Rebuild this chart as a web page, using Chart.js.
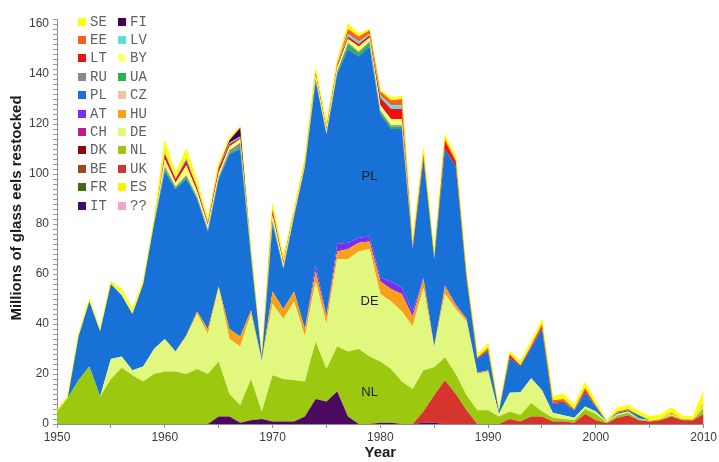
<!DOCTYPE html>
<html>
<head>
<meta charset="utf-8">
<title>Glass eels restocked</title>
<script src="https://cdn.jsdelivr.net/npm/chart.js@4.4.1/dist/chart.umd.min.js"></script>
<style>
  html, body { margin: 0; padding: 0; background: #fff; }
  #wrap { position: relative; width: 719px; height: 462px; }
  #legend { position: absolute; left: 0; top: 0; font-family: "Liberation Mono", "Courier New", monospace; font-size: 14px; color: #606060; }
  .item { position: absolute; height: 18px; line-height: 18px; display: flex; align-items: center; white-space: nowrap; }
  .sw { width: 8px; height: 8px; margin-right: 4px; display: inline-block; }
</style>
</head>
<body>
<div id="wrap">
  <canvas id="chart" width="719" height="462"></canvas>
  <div id="legend"></div>
</div>
<script>
// years on the x axis
var years = [1950,1951,1952,1953,1954,1955,1956,1957,1958,1959,
             1960,1961,1962,1963,1964,1965,1966,1967,1968,1969,
             1970,1971,1972,1973,1974,1975,1976,1977,1978,1979,
             1980,1981,1982,1983,1984,1985,1986,1987,1988,1989,
             1990,1991,1992,1993,1994,1995,1996,1997,1998,1999,
             2000,2001,2002,2003,2004,2005,2006,2007,2008,2009,
             2010];
var xTickLabels = [1950, 1960, 1970, 1980, 1990, 2000, 2010];
var yTickLabels = [0, 20, 40, 60, 80, 100, 120, 140, 160];

// millions of glass eels restocked, per country
var IT = [0,0,0,0,0,0,0,0,0,0,
          0,0,0,0,0,3,3,0.5,1.5,2,
          1,1,1,3,10,9,13,3,0,0,
          0.5,0.5,0,0,0.5,0.5,0,0,0,0,
          0,0,0,0,0,0,0,0,0,0,
          0,0,0,0,0,0,0,0,0,0,
          0];
var UK = [0,0,0,0,0,0,0,0,0,0,
          0,0,0,0,0,0,0,0,0,0,
          0,0,0,0,0,0,0,0,0,0,
          0,0,0,0,4.5,11,17.5,12,5.5,0,
          0,0,2,1,3,3,1,1,0.5,4,
          1.5,0.3,2.5,3.5,1.5,1,1.5,3,1.5,1.5,
          4];
var NL = [5,10.5,17.5,23,11,18,22.5,19.5,17,20,
          21,21,20,22,20,22,9,7,16.5,3,
          18.5,17,16.5,14,23,13,18,26,30,27,
          24.5,21.5,17,14,16.5,11.2,9.2,8,6,5.5,
          5.5,3,3,2.6,5.4,2,1.5,1,1,2,
          2.5,0.4,1,1,0.5,0.3,0.5,0.5,0.5,0.3,
          2.5];
var DE = [0,0,0,0,0,8,4.5,2,6,10,
          13,8,15,22,16,29.5,22,23.5,26,20,
          28.5,24,31.5,18,24,18,35,37,39,43,
          27,27,28,25,33,7.8,25.3,26,29.5,14.5,
          15.5,1,7.5,9.1,9.9,8.5,2,1.5,1,1,
          1,0.3,0.5,0.5,0.2,0.2,0.2,0.5,0.2,0.2,
          1];
var HU = [0,0,0,0,0,0,0,0,0,0,
          0,0,0.5,1,2,0.5,4,4,1.5,0.5,
          5,4,4,3,4,3,3,4,3.5,3,
          5,5,7,4,3.5,0.5,3,1.5,1,0.5,
          0.5,0,0,0,0,0,0,0,0,0,
          0,0,0,0,0,0,0,0,0,0,
          0];
var AT = [0,0,0,0,0,0,0,0,0,0,
          0,0,0,0,0,0,0,0,0,0,
          0,0,0,0,2.5,0.5,3,2.5,2,2,
          1.5,3,2.5,2,0.5,0,0.5,0.5,0,0,
          0,0,0,0,0,0,0,0,0,0,
          0,0,0,0,0,0,0,0,0,0,
          0];
var PL = [0,0,17.5,26,26,30,24.5,22.5,33,50,
          67,65,62.5,45,39,43,70,75,21.5,1,
          27,16,30,65,73.5,72.5,68,77.5,72.5,76,
          65.5,61,63.5,25,47.5,35,54.5,55,16,5.5,
          7.5,1,14,10.3,12.2,24.5,3.5,5,3,5.5,
          2,0,0.5,0.5,1.3,0,0,0,0,0,
          0];
var UA = [0,0,0,0,0,0,0,0,0,0,
          1,0.5,1,0.5,0.5,0.5,0.5,1,0.5,0,
          1,0.5,0.5,0,1,0,1,2,1.5,1.5,
          1,1,1,0,0,0,0,0,0,0,
          0,0,0,0,0,0,0,0,0,0,
          0,0,0,0,0,0,0,0,0,0,
          0];
var RU = [0,0,0,0,0,0,0,0,0,0,
          1,0.5,0.5,0.5,0.5,0.5,1,1.5,0,0,
          0.5,0,0,0,0,0,0,0.5,0.5,0.5,
          0.5,0.5,0.5,0,0,0,0,0,0,0,
          0,0,0,0,0,0,0,0,0,0,
          0,0,0,0,0,0,0,0,0,0,
          0];
var BY = [0,0,0,0,0,0,1,0.5,0,0,
          3,1.5,4,2,1.5,1.5,1.5,1.5,1,0.5,
          2,1.5,1,1,1.5,1.5,1.5,1.5,2,1.5,
          2,2.5,2.5,0,0,0,0,0,0,0,
          0,0,0,0,0,0,0,0,0,0,
          0,0,0,0,0,0,0,0,0,0,
          0];
var LT = [0,0,0,0,0,0,0,0,0,0,
          2,1.5,2,1.5,1,2,1,0.5,0.5,0,
          2,1,0.5,0.5,1,1,1,1,1,1,
          3,4,4,1,1,0.5,3,2,1,0.5,
          0.5,0,1,0.5,0.5,1,0.5,0.5,0,1,
          0,0,0,0,0,0,0,0,0,0,
          0];
var LV = [0,0,0,0,0,0,0,0,0,0,
          1,0.5,1,0.5,0.5,0.5,0.5,0.5,0,0,
          0.5,0,0,0,0,0,0,1,1,0.5,
          1,1.5,1.5,0,0,0,0,0,0,0,
          0,0,0,0,0,0,0,0,0,0,
          0,0,0,0,0,0,0,0,0,0,
          0];
var EE = [0,0,0,0,0,0,0,0,0,0,
          0,0,0,0,0,0,0,0,0,0,
          0,0,0,0,0,0,0.5,2,2,1.5,
          1.5,2,2.5,0,1,0,1,0.5,0,0,
          1,0,0.5,0,0.5,1,1,1,0.5,1,
          0.5,0,0.5,0.5,0,0,0,0.5,0,0,
          0.5];
var FI = [0,0,0,0,0,0,0,0,0,0,
          0,0,0,0,0,0,1,3.5,0,0,
          0,0,0,0,0,0,0,0,0,0,
          0,0,0,0,0,0,0,0,0,0,
          0,0,0,0,0,0,0,0,0,0,
          0,0,0,0,0,0,0,0,0,0,
          0];
var SE = [0.5,0.5,0.8,1,0.6,1,1.5,1.5,1,1.5,
          4,1.5,3.5,2,1,1,1,0.5,1,0.5,
          2,1.5,1,1.5,1.5,1.5,1,2,1,0.5,
          0.5,1,1,2,2,1.5,1.5,1.5,1.5,1.5,
          1.5,1,1,1.5,1.5,1.5,1.5,2,1.5,2,
          1.5,0.3,1.5,1.5,1.5,1.5,1.5,2,1,0.8,
          5];
// countries listed in the legend with nothing visible in the picture
var CZ = [0,0,0,0,0,0,0,0,0,0, 0,0,0,0,0,0,0,0,0,0, 0,0,0,0,0,0,0,0,0,0,
          0,0,0,0,0,0,0,0,0,0, 0,0,0,0,0,0,0,0,0,0, 0,0,0,0,0,0,0,0,0,0, 0];
var CH = [0,0,0,0,0,0,0,0,0,0, 0,0,0,0,0,0,0,0,0,0, 0,0,0,0,0,0,0,0,0,0,
          0,0,0,0,0,0,0,0,0,0, 0,0,0,0,0,0,0,0,0,0, 0,0,0,0,0,0,0,0,0,0, 0];
var DK = [0,0,0,0,0,0,0,0,0,0, 0,0,0,0,0,0,0,0,0,0, 0,0,0,0,0,0,0,0,0,0,
          0,0,0,0,0,0,0,0,0,0, 0,0,0,0,0,0,0,0,0,0, 0,0,0,0,0,0,0,0,0,0, 0];
var BE = [0,0,0,0,0,0,0,0,0,0, 0,0,0,0,0,0,0,0,0,0, 0,0,0,0,0,0,0,0,0,0,
          0,0,0,0,0,0,0,0,0,0, 0,0,0,0,0,0,0,0,0,0, 0,0,0,0,0,0,0,0,0,0, 0];
var FR = [0,0,0,0,0,0,0,0,0,0, 0,0,0,0,0,0,0,0,0,0, 0,0,0,0,0,0,0,0,0,0,
          0,0,0,0,0,0,0,0,0,0, 0,0,0,0,0,0,0,0,0,0, 0,0,0,0,0,0,0,0,0,0, 0];
var ES = [0,0,0,0,0,0,0,0,0,0, 0,0,0,0,0,0,0,0,0,0, 0,0,0,0,0,0,0,0,0,0,
          0,0,0,0,0,0,0,0,0,0, 0,0,0,0,0,0,0,0,0,0, 0,0,0,0,0,0,0,0,0,0, 0];
var UNKNOWN = [0,0,0,0,0,0,0,0,0,0, 0,0,0,0,0,0,0,0,0,0, 0,0,0,0,0,0,0,0,0,0,
          0,0,0,0,0,0,0,0,0,0, 0,0,0,0,0,0,0,0,0,0, 0,0,0,0,0,0,0,0,0,0, 0];

var series = {'SE': SE, 'FI': FI, 'EE': EE, 'LV': LV, 'LT': LT, 'BY': BY, 'RU': RU, 'UA': UA,
              'PL': PL, 'CZ': CZ, 'AT': AT, 'HU': HU, 'CH': CH, 'DE': DE, 'DK': DK, 'NL': NL,
              'BE': BE, 'UK': UK, 'FR': FR, 'ES': ES, 'IT': IT, '??': UNKNOWN};

// bottom of the stack first
var stackOrder = ['??','IT','ES','FR','UK','BE','NL','DK','DE','CH','HU','AT','CZ','PL',
                  'UA','RU','BY','LT','LV','EE','FI','SE'];
// legend, read row by row in two columns
var legendOrder = ['SE','FI','EE','LV','LT','BY','RU','UA','PL','CZ','AT','HU',
                   'CH','DE','DK','NL','BE','UK','FR','ES','IT','??'];

var colors = {
  'SE': '#ffff00', 'FI': '#44005a', 'EE': '#f5621e', 'LV': '#5fdde0', 'LT': '#f01010',
  'BY': '#ffff7a', 'RU': '#8a8a8a', 'UA': '#2fb14f', 'PL': '#1771d6', 'CZ': '#f2c49c',
  'AT': '#7a2ef0', 'HU': '#f8a01a', 'CH': '#c2188e', 'DE': '#e2f77e', 'DK': '#8a0a10',
  'NL': '#9cc90f', 'BE': '#9c4a1c', 'UK': '#d5352c', 'FR': '#3f6a1a', 'ES': '#fff200',
  'IT': '#4a0a60', '??': '#f4a6bd'
};

var datasets = stackOrder.map(function (k, i) {
  return {
    label: k,
    data: years.map(function (yr, j) { return {x: yr, y: series[k][j]}; }),
    backgroundColor: colors[k],
    borderColor: colors[k],
    borderWidth: k === 'SE' ? 1 : 0,
    pointRadius: 0,
    tension: 0,
    fill: i === 0 ? 'origin' : '-1'
  };
});

// PL / DE / NL labels inside the areas, plus the rotated y title
var areaLabels = [['PL', 1979, 99], ['DE', 1979, 49], ['NL', 1979, 12.7]];
var annotate = {
  id: 'annotate',
  afterDatasetsDraw: function (chart) {
    var ctx = chart.ctx, xs = chart.scales.x, ys = chart.scales.y;
    ctx.save();
    ctx.font = '13px "Liberation Sans", Arial, sans-serif';
    ctx.fillStyle = '#1e1e1e';
    ctx.textAlign = 'center';
    ctx.textBaseline = 'middle';
    areaLabels.forEach(function (a) {
      ctx.fillText(a[0], xs.getPixelForValue(a[1]), ys.getPixelForValue(a[2]));
    });
    ctx.restore();
  },
  afterDraw: function (chart) {
    var ctx = chart.ctx;
    ctx.save();
    ctx.translate(17, 208);
    ctx.rotate(-Math.PI / 2);
    ctx.font = 'bold 15px "Liberation Sans", Arial, sans-serif';
    ctx.fillStyle = '#1a1a1a';
    ctx.textAlign = 'center';
    ctx.textBaseline = 'middle';
    ctx.fillText('Millions of glass eels restocked', 0, 0);
    ctx.restore();
  }
};

var chart = new Chart(document.getElementById('chart'), {
  type: 'line',
  data: { datasets: datasets },
  options: {
    responsive: false,
    animation: false,
    devicePixelRatio: 1,
    layout: { padding: { top: 19, right: 15, left: 0, bottom: 0 } },
    plugins: { legend: { display: false }, tooltip: { enabled: false } },
    scales: {
      x: {
        type: 'linear', min: 1950, max: 2010,
        grid: { drawOnChartArea: false, tickLength: 4, color: '#8c8c8c' },
        border: { color: '#8c8c8c' },
        ticks: {
          autoSkip: false, maxRotation: 0, padding: 2,
          color: '#3c3c3c', font: { family: '"Liberation Sans", Arial, sans-serif', size: 12 },
          callback: function (v) { return xTickLabels.indexOf(v) >= 0 ? String(v) : ''; }
        },
        // a tick mark every 5 years, a label every 10
        afterBuildTicks: function (s) {
          var t = [];
          for (var v = 1950; v <= 2010; v += 5) t.push({value: v});
          s.ticks = t;
        },
        title: {
          display: true, text: 'Year', color: '#1a1a1a', padding: { top: 0, bottom: 0 },
          font: { family: '"Liberation Sans", Arial, sans-serif', size: 15, weight: 'bold' }
        },
        afterFit: function (s) { s.height = 38; }
      },
      y: {
        stacked: true, min: 0, max: 162,
        grid: { drawOnChartArea: false, tickLength: 4, color: '#9a9a9a' },
        border: { color: '#8c8c8c' },
        ticks: {
          autoSkip: false, padding: 4,
          color: '#3c3c3c', font: { family: '"Liberation Sans", Arial, sans-serif', size: 12 },
          callback: function (v) { return yTickLabels.indexOf(v) >= 0 ? String(v) : ''; }
        },
        // minor tick marks every 2 units, labels every 20
        afterBuildTicks: function (s) {
          var t = [];
          for (var v = 0; v <= 162; v += 2) t.push({value: v});
          s.ticks = t;
        },
        afterFit: function (s) { s.width = 57; }
      }
    }
  },
  plugins: [annotate]
});

// two-column legend, built from the datasets
var legend = document.getElementById('legend');
legendOrder.forEach(function (k, i) {
  var row = Math.floor(i / 2), col = i % 2;
  var el = document.createElement('div');
  el.className = 'item';
  el.style.left = (78 + col * 40) + 'px';
  el.style.top = (12.5 + row * 18.4) + 'px';
  var sw = document.createElement('span');
  sw.className = 'sw';
  sw.style.background = colors[k];
  el.appendChild(sw);
  el.appendChild(document.createTextNode(k));
  legend.appendChild(el);
});
</script>
</body>
</html>
